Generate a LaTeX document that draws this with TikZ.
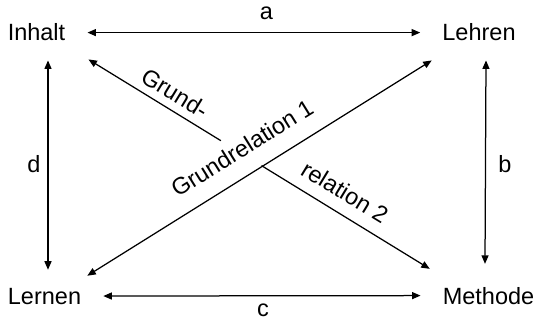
\documentclass[tikz,border=0pt]{standalone}
\usepackage{fontspec}
\setmainfont{Liberation Sans}
\usetikzlibrary{arrows.meta,calc}
\begin{document}
\begin{tikzpicture}[x=1pt,y=-1pt,
  lbl/.style={font=\fontsize{23.5}{28}\selectfont, inner sep=0pt},
  term/.style={lbl, anchor=base},
  conn/.style={line width=1.25pt, -{Triangle[length=8.5pt,width=7pt]}},
  biconn/.style={line width=1.25pt, {Triangle[length=8.5pt,width=7pt]}-{Triangle[length=8.5pt,width=7pt]}}]
\useasboundingbox (0,0) rectangle (536,321);
% terms
\node[term] (inhalt) at (36.5,41) {Inhalt};
\node[term] (lehren) at (479,41) {Lehren};
\node[term] (lernen) at (44.5,304) {Lernen};
\node[term] (methode) at (488.5,304) {Methode};
% edge labels
\node[term] (la) at (266.5,20) {a};
\node[term] (lc) at (263,316) {c};
\node[term] (ld) at (34,172) {d};
\node[term] (lb) at (505,172) {b};
% side arrows
\draw[biconn] ([xshift=22pt]inhalt.east) -- ([xshift=-22pt]lehren.west);
\draw[biconn] ([xshift=22pt]lernen.east) -- ([xshift=-22pt]methode.west);
\draw[biconn] ([xshift=11.5pt,yshift=-19pt]inhalt.south) -- ([xshift=3.5pt,yshift=17.9pt]lernen.north);
\draw[biconn] ([xshift=7pt,yshift=-19pt]lehren.south) -- ([xshift=-3.5pt,yshift=22.9pt]methode.north);
% diagonals
\draw[biconn] ([xshift=6pt,yshift=11.9pt]lernen.north east) -- ([xshift=-10.5pt,yshift=-19pt]lehren.south west);
\coordinate (p) at ([xshift=23pt,yshift=-18pt]inhalt.south east);
\coordinate (q) at ([xshift=-12.8pt,yshift=17.9pt]methode.north west);
\draw[conn] ($(p)!0.388!(q)$) -- (p);
\draw[conn] ($(p)!0.507!(q)$) -- (q);
% diagonal labels
\node[lbl, rotate=31.9] (gr1) at (242,148) {Grundrelation 1};
\node[lbl, rotate=-31.3] (gr2a) at (175,93) {Grund-};
\node[lbl, rotate=-31.3] (gr2b) at (345,192) {relation 2};
\end{tikzpicture}
\end{document}
